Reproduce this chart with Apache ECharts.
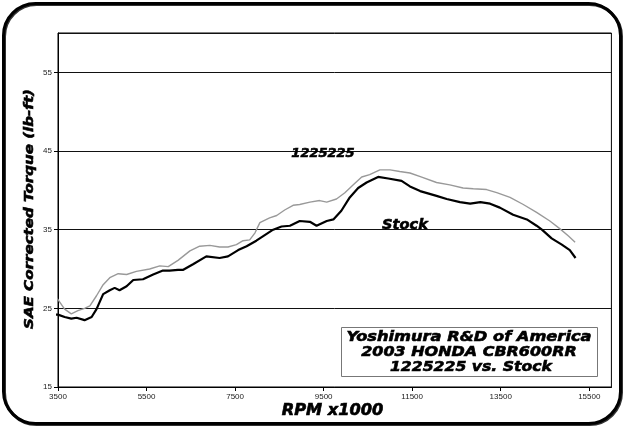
<!DOCTYPE html>
<html>
<head>
<meta charset="utf-8">
<script src="https://cdn.jsdelivr.net/npm/echarts@6/dist/echarts.min.js"></script>
<style>html,body{margin:0;padding:0;background:#fff}#c{width:625px;height:430px}</style>
</head>
<body>
<div id="c"></div>
<script>
// RPM ticks
const xTicks = [3500, 5500, 7500, 9500, 11500, 13500, 15500];
const yTicks = [15, 25, 35, 45, 55];
const seriesNames = ['1225225', 'Stock'];
// 1225225 (gray) [rpm, torque]
const mod1225225 = [[3400,26.8],[3500,26.1],[3650,24.9],[3800,24.3],[3950,24.7],[4100,25.0],[4220,25.3],[4370,26.6],[4520,28.0],[4670,28.9],[4860,29.4],[5050,29.3],[5270,29.7],[5570,30.0],[5800,30.4],[5990,30.3],[6210,31.1],[6480,32.3],[6700,32.9],[6930,33.0],[7150,32.8],[7340,32.8],[7530,33.1],[7680,33.6],[7830,33.7],[7950,34.6],[8060,35.9],[8280,36.5],[8440,36.8],[8620,37.5],[8810,38.1],[8960,38.2],[9190,38.5],[9410,38.7],[9570,38.5],[9790,38.9],[9980,39.7],[10170,40.7],[10360,41.7],[10540,42.0],[10770,42.6],[11000,42.6],[11220,42.4],[11450,42.2],[11700,41.7],[12050,41.0],[12350,40.7],[12650,40.3],[12880,40.2],[13180,40.1],[13410,39.7],[13710,39.1],[14010,38.2],[14310,37.2],[14610,36.1],[14840,35.1],[15030,34.2],[15180,33.4]];
// Stock (black)
const stock = [[3400,24.2],[3500,24.2],[3650,23.9],[3800,23.7],[3920,23.8],[4100,23.5],[4260,23.9],[4370,24.9],[4520,26.8],[4670,27.3],[4780,27.6],[4890,27.3],[5050,27.8],[5200,28.6],[5420,28.7],[5650,29.3],[5870,29.8],[6020,29.8],[6210,29.9],[6330,29.9],[6550,30.6],[6850,31.6],[7150,31.4],[7340,31.6],[7570,32.4],[7760,32.9],[7980,33.6],[8170,34.3],[8360,35.0],[8550,35.4],[8740,35.5],[8960,36.1],[9190,36.0],[9340,35.5],[9570,36.1],[9720,36.3],[9900,37.4],[10090,39.1],[10280,40.3],[10470,41.0],[10730,41.7],[10960,41.5],[11260,41.2],[11450,40.5],[11680,39.9],[12050,39.3],[12280,38.9],[12580,38.5],[12810,38.3],[13040,38.5],[13260,38.3],[13480,37.8],[13780,36.9],[14090,36.3],[14310,35.5],[14430,35.0],[14650,33.9],[14880,33.1],[15060,32.4],[15190,31.4]];
const boxLines = ['Yoshimura R&D of America', '2003 HONDA CBR600RR', '1225225 vs. Stock'];
const yTitle = 'SAE Corrected Torque (lb-ft)';
const xTitle = 'RPM x1000';

const chart = echarts.init(document.getElementById('c'), null, {renderer: 'canvas'});
const bi = (s) => 'italic bold ' + s + 'px "DejaVu Sans"';
const heavy = {fill: '#000', stroke: '#000', lineWidth: 0.6, align: 'center', verticalAlign: 'middle'};
const ts = (text, size) => Object.assign({text: text, font: bi(size)}, heavy);
chart.setOption({
  animation: false,
  backgroundColor: '#fff',
  grid: {left: 58, top: 33, right: 13.6, bottom: 43, show: true, borderColor: '#000', borderWidth: 1},
  xAxis: {
    type: 'value', min: 3500, max: 16000, interval: 2000,
    axisLine: {lineStyle: {color: '#000', width: 1}},
    axisTick: {show: true, length: 4, lineStyle: {color: '#000'}},
    axisLabel: {fontFamily: 'Liberation Sans', fontSize: 8, color: '#222', margin: 6, showMaxLabel: false,
      formatter: (v) => String(v)},
    splitLine: {show: false}
  },
  yAxis: {
    type: 'value', min: 15, max: 60, interval: 10,
    axisLine: {show: true, lineStyle: {color: '#000', width: 1}},
    axisTick: {show: true, length: 4, lineStyle: {color: '#000'}},
    axisLabel: {fontFamily: 'Liberation Sans', fontSize: 8, color: '#222', margin: 6, showMaxLabel: false,
      formatter: (v) => String(v)},
    splitLine: {show: true, lineStyle: {color: '#111', width: 1}}
  },
  series: [
    {name: seriesNames[0], type: 'line', data: mod1225225, showSymbol: false, clip: false,
     lineStyle: {color: '#999', width: 1.4}, z: 3},
    {name: seriesNames[1], type: 'line', data: stock, showSymbol: false, clip: false,
     lineStyle: {color: '#000', width: 2.2}, z: 4}
  ],
  graphic: [
    {type: 'rect', shape: {x: 4.5, y: 4.5, width: 617, height: 420, r: 32}, style: {fill: 'none', stroke: '#333', lineWidth: 3}, z: 0},
    {type: 'rect', shape: {x: 3.5, y: 3.5, width: 617, height: 420, r: 32}, style: {fill: 'none', stroke: '#000', lineWidth: 3}, z: 1},
    {type: 'text', x: 30, y: 209, rotation: Math.PI / 2, scaleX: 1.16, style: ts(yTitle, 13), z: 10},
    {type: 'text', x: 332.5, y: 411, scaleX: 1.08, style: ts(xTitle, 15), z: 10},
    {type: 'text', x: 323, y: 154, style: ts(seriesNames[0], 13), z: 10},
    {type: 'text', x: 405, y: 225, scaleX: 1.04, style: ts(seriesNames[1], 14), z: 10},
    {type: 'rect', shape: {x: 341.5, y: 327.5, width: 256, height: 49}, style: {fill: '#fff', stroke: '#777', lineWidth: 1}, z: 9},
    {type: 'text', x: 469, y: 337, scaleX: 1.16, style: ts(boxLines[0], 14), z: 10},
    {type: 'text', x: 469, y: 352, scaleX: 1.14, style: ts(boxLines[1], 14), z: 10},
    {type: 'text', x: 471, y: 367, scaleX: 1.12, style: ts(boxLines[2], 14), z: 10}
  ]
});
</script>
</body>
</html>
